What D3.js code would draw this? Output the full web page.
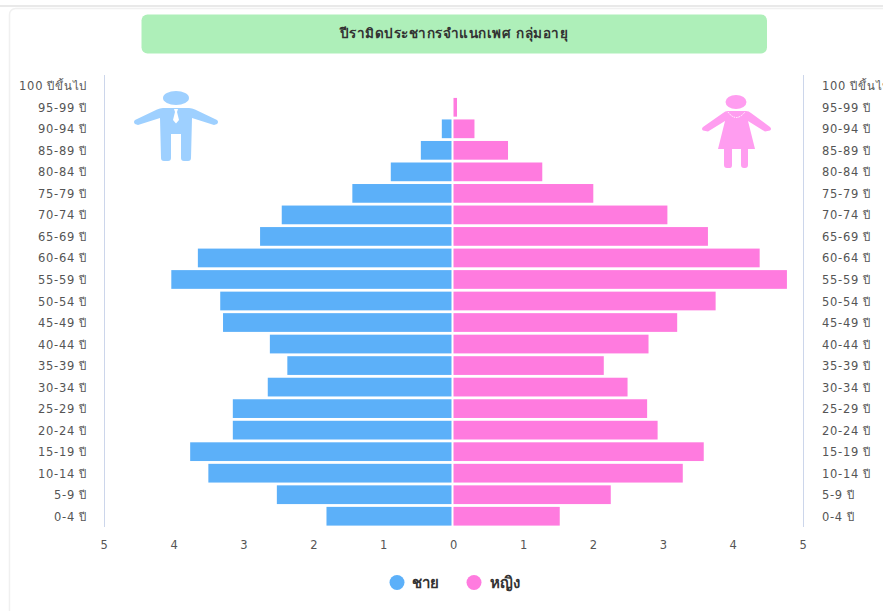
<!DOCTYPE html>
<html><head><meta charset="utf-8">
<script src="https://cdn.jsdelivr.net/npm/d3@7"></script>
<style>
html,body{margin:0;padding:0;background:#fff;overflow:hidden}
svg{display:block}
text{font-family:"DejaVu Sans","Noto Sans",sans-serif}
</style></head><body>
<svg id="c" width="883" height="611"></svg>
<script>
const ageGroups=["100 ปีขึ้นไป","95-99 ปี","90-94 ปี","85-89 ปี","80-84 ปี","75-79 ปี","70-74 ปี","65-69 ปี","60-64 ปี","55-59 ปี","50-54 ปี","45-49 ปี","40-44 ปี","35-39 ปี","30-34 ปี","25-29 ปี","20-24 ปี","15-19 ปี","10-14 ปี","5-9 ปี","0-4 ปี"];
const maleValues=[0,0,0.16,0.46,0.89,1.44,2.45,2.76,3.65,4.03,3.33,3.29,2.62,2.37,2.65,3.15,3.15,3.76,3.5,2.52,1.81];
const femaleValues=[0,0.05,0.3,0.78,1.27,2.0,3.06,3.64,4.38,4.77,3.75,3.2,2.79,2.15,2.49,2.77,2.92,3.58,3.28,2.25,1.52];
const xTicks=[5,4,3,2,1,0,1,2,3,4,5];
const titleText="ปีรามิดประชากรจำแนกเพศ กลุ่มอายุ";
const legendNames=["ชาย","หญิง"];
const maleColor="#5cb0f9",femaleColor="#ff7bdf";

const svg=d3.select("#c");
svg.append("rect").attr("x",0).attr("y",5).attr("width",883).attr("height",2).attr("fill","#e9e9e9");
svg.append("rect").attr("x",9.5).attr("y",8.5).attr("width",900).attr("height",640).attr("rx",6).attr("fill","#fff").attr("stroke","#f0f0f0").attr("stroke-width",1.5);
svg.append("rect").attr("x",141.5).attr("y",14.5).attr("width",625.5).attr("height",39).attr("rx",6).attr("fill","#aeefb9");
svg.append("text").attr("x",454).attr("y",38).attr("text-anchor","middle").attr("font-size",13.5).attr("font-weight",600).attr("letter-spacing",0.5).attr("fill","#333").text(titleText);

const plotTop=75,plotBottom=527;
const x=d3.scaleLinear().domain([-5,5]).range([104.5,803.5]);
const y=d3.scaleBand().domain(ageGroups).range([plotTop,plotBottom]).paddingInner(0.13).paddingOuter(0.065);
const yLabel=d3.scaleBand().domain(ageGroups).range([plotTop,plotBottom]);

[-5,5].forEach(v=>svg.append("line").attr("x1",x(v)).attr("x2",x(v)).attr("y1",plotTop).attr("y2",plotBottom).attr("stroke","#ccd6eb"));

svg.append("g").selectAll("rect").data(ageGroups).join("rect")
 .attr("x",(d,i)=>x(-maleValues[i])-1).attr("y",d=>y(d)).attr("height",y.bandwidth())
 .attr("width",(d,i)=>maleValues[i]?x(0)-x(-maleValues[i])-1.5:0).attr("fill",maleColor);
svg.append("g").selectAll("rect").data(ageGroups).join("rect")
 .attr("x",x(0)-0.5).attr("y",d=>y(d)).attr("height",y.bandwidth())
 .attr("width",(d,i)=>femaleValues[i]?x(femaleValues[i])-x(0):0).attr("fill",femaleColor);

const labelStyle=s=>s.attr("font-size",11.5).attr("letter-spacing",0.7).attr("fill","#555").attr("dy","0.35em");
svg.append("g").selectAll("text").data(ageGroups).join("text")
 .attr("x",87).attr("y",d=>yLabel(d)+yLabel.bandwidth()/2+0.5).attr("text-anchor","end").text(d=>d).call(labelStyle);
svg.append("g").selectAll("text").data(ageGroups).join("text")
 .attr("x",822).attr("y",d=>yLabel(d)+yLabel.bandwidth()/2+0.5).attr("text-anchor","start").text(d=>d).call(labelStyle);
svg.append("g").selectAll("text").data(xTicks).join("text")
 .attr("x",(d,i)=>x(i-5)).attr("y",545).attr("text-anchor","middle").text(d=>d).call(labelStyle);

const lg=[[397,maleColor,412],[474,femaleColor,490]];
lg.forEach((l,i)=>{
 svg.append("circle").attr("cx",l[0]).attr("cy",582.5).attr("r",7.5).attr("fill",l[1]);
 svg.append("text").attr("x",l[2]).attr("y",588).attr("font-size",15).attr("font-weight",700).attr("fill","#333").text(legendNames[i]);
});

const man=svg.append("g").attr("fill","#9ed0ff");
man.append("ellipse").attr("cx",176).attr("cy",98).attr("rx",13).attr("ry",7);
man.append("path").attr("d","M163 108L189 108Q192 108 195 109.500L217 120Q219 122 217 124L214 125L192 118L191 158Q191 161 188 161L184 161Q181 161 181 158L181 134L171 134L171 158Q171 161 168 161L164 161Q161 161 161 158L160 118L138 125L135 124Q133 122 135 120L157 109.500Q160 108 163 108Z");
svg.append("path").attr("fill","#fff").attr("d","M174 109L178 109L177 112L179 120L176 123.500L173 120L175 112Z");

const wom=svg.append("g").attr("fill","#ff9df0");
wom.append("ellipse").attr("cx",736).attr("cy",102).attr("rx",10.500).attr("ry",7);
wom.append("path").attr("d","M728 111L746 111Q749 111 751 113L770 127Q772 129 770 130.500L765 131.500L748 121L755 149L748 149L748 165Q748 168 745 168L744 168Q741 168 741 165L741 149L732 149L732 165Q732 168 730 168L727 168Q724 168 724 165L724 149L718 149L725 121L708 131.500L703 130.500Q701 129 703 127L723 113Q725 111 728 111Z");
svg.append("path").attr("fill","none").attr("stroke","#fff").attr("stroke-width",1).attr("stroke-dasharray","1.500 1").attr("d","M728 112Q736 123 745 112");
</script>
</body></html>
